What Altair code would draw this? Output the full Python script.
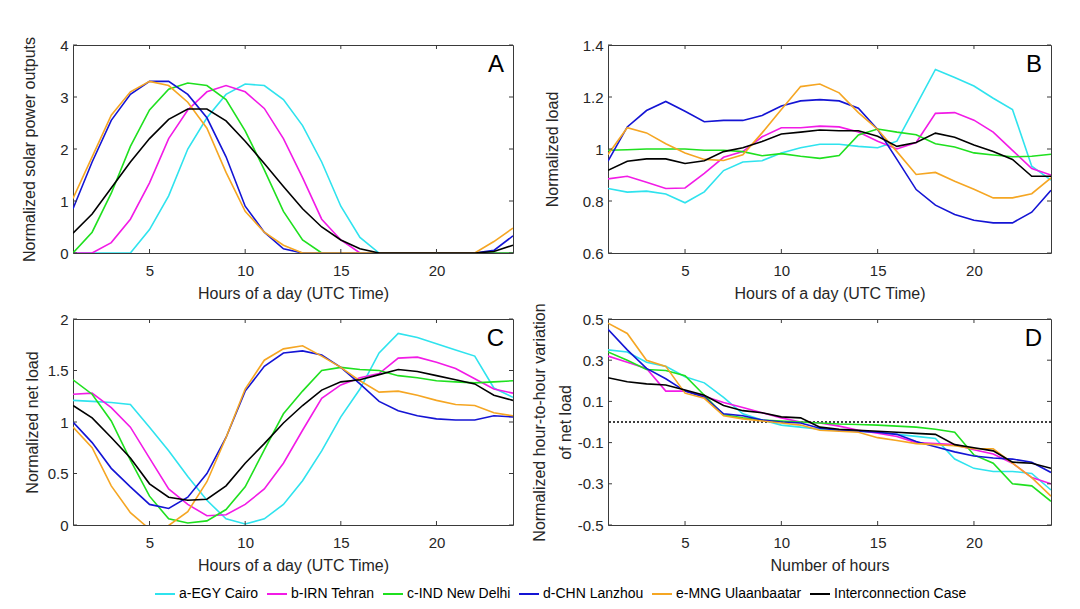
import altair as alt
import pandas as pd

hours = list(range(1, 25))
series_names = ["a-EGY Cairo", "b-IRN Tehran", "c-IND New Delhi", "d-CHN Lanzhou",
                "e-MNG Ulaanbaatar", "Interconnection Case"]
series_colors = ["#2FE3EE", "#F21BE6", "#1FE01F", "#1414D4", "#F5A623", "#000000"]
x_ticks = [5, 10, 15, 20]

# Panel A: normalized solar power outputs
solar_cairo = [0, 0, 0, 0, 0.45, 1.1, 2.0, 2.6, 3.05, 3.25, 3.22, 2.95, 2.45, 1.75, 0.9, 0.3, 0, 0, 0, 0, 0, 0, 0, 0]
solar_tehran = [0, 0, 0.2, 0.65, 1.35, 2.2, 2.75, 3.1, 3.22, 3.1, 2.78, 2.2, 1.45, 0.65, 0.25, 0, 0, 0, 0, 0, 0, 0, 0, 0]
solar_delhi = [0, 0.4, 1.15, 2.05, 2.75, 3.15, 3.27, 3.22, 2.95, 2.35, 1.6, 0.8, 0.25, 0, 0, 0, 0, 0, 0, 0, 0, 0, 0, 0]
solar_lanzhou = [0.85, 1.75, 2.55, 3.05, 3.3, 3.3, 3.05, 2.6, 1.85, 0.9, 0.4, 0.08, 0, 0, 0, 0, 0, 0, 0, 0, 0, 0, 0.05, 0.33]
solar_ulaan = [1.05, 1.85, 2.65, 3.1, 3.3, 3.22, 2.9, 2.4, 1.55, 0.8, 0.4, 0.15, 0, 0, 0, 0, 0, 0, 0, 0, 0, 0, 0.22, 0.48]
solar_inter = [0.38, 0.75, 1.25, 1.75, 2.2, 2.57, 2.77, 2.77, 2.54, 2.15, 1.72, 1.28, 0.85, 0.5, 0.25, 0.08, 0, 0, 0, 0, 0, 0, 0.03, 0.15]

# Panel B: normalized load
load_cairo = [0.848, 0.834, 0.838, 0.827, 0.793, 0.835, 0.917, 0.95, 0.955, 0.985, 1.005, 1.018, 1.018, 1.01, 1.005, 1.03, 1.168, 1.306, 1.275, 1.242, 1.195, 1.152, 0.934, 0.88]
load_tehran = [0.885, 0.895, 0.872, 0.848, 0.85, 0.906, 0.968, 0.99, 1.047, 1.082, 1.082, 1.088, 1.085, 1.065, 1.03, 1.0, 1.025, 1.137, 1.14, 1.111, 1.065, 0.995, 0.925, 0.9]
load_delhi = [0.995, 0.997, 1.0, 1.0, 1.0, 0.995, 0.995, 0.99, 0.974, 0.982, 0.972, 0.964, 0.975, 1.054, 1.077, 1.065, 1.055, 1.02, 1.008, 0.985, 0.977, 0.97, 0.972, 0.98]
load_lanzhou = [0.953, 1.085, 1.148, 1.183, 1.145, 1.105, 1.11, 1.11, 1.129, 1.165, 1.185, 1.19, 1.185, 1.157, 1.075, 0.96, 0.844, 0.784, 0.748, 0.726, 0.716, 0.716, 0.757, 0.841]
load_ulaan = [0.979, 1.082, 1.062, 1.02, 0.985, 0.96, 0.956, 0.978, 1.062, 1.152, 1.24, 1.25, 1.216, 1.14, 1.075, 0.99, 0.902, 0.91, 0.876, 0.845, 0.812, 0.812, 0.828, 0.889]
load_inter = [0.918, 0.953, 0.962, 0.962, 0.944, 0.955, 0.99, 1.005, 1.029, 1.058, 1.065, 1.073, 1.07, 1.07, 1.049, 1.01, 1.025, 1.061, 1.045, 1.015, 0.99, 0.96, 0.895, 0.895]

# Panel C: normalized net load
net_cairo = [1.21, 1.2, 1.19, 1.17, 0.95, 0.72, 0.47, 0.24, 0.06, 0.01, 0.06, 0.2, 0.43, 0.72, 1.05, 1.32, 1.67, 1.86, 1.82, 1.76, 1.7, 1.64, 1.33, 1.24]
net_tehran = [1.27, 1.28, 1.14, 0.95, 0.65, 0.35, 0.2, 0.09, 0.1, 0.2, 0.35, 0.6, 0.92, 1.23, 1.36, 1.43, 1.47, 1.62, 1.63, 1.58, 1.52, 1.42, 1.32, 1.28]
net_delhi = [1.41, 1.27, 1.01, 0.63, 0.28, 0.06, 0.02, 0.04, 0.15, 0.37, 0.73, 1.08, 1.3, 1.5, 1.53, 1.51, 1.5, 1.45, 1.43, 1.4, 1.39, 1.38, 1.39, 1.4]
net_lanzhou = [1.0, 0.8, 0.55, 0.37, 0.2, 0.16, 0.27, 0.5, 0.85, 1.3, 1.54, 1.67, 1.69, 1.65, 1.53, 1.37, 1.2, 1.11, 1.06, 1.03, 1.02, 1.02, 1.06, 1.05]
net_ulaan = [0.95, 0.75, 0.38, 0.12, -0.04, -0.005, 0.13, 0.42, 0.85, 1.32, 1.6, 1.71, 1.74, 1.64, 1.53, 1.4, 1.29, 1.3, 1.26, 1.21, 1.17, 1.16, 1.09, 1.06]
net_inter = [1.16, 1.04, 0.85, 0.65, 0.4, 0.27, 0.24, 0.25, 0.38, 0.6, 0.79, 0.99, 1.16, 1.31, 1.39, 1.41, 1.46, 1.51, 1.49, 1.45, 1.41, 1.37, 1.26, 1.21]

# Panel D: normalized hour-to-hour variation of net load (sorted)
var_cairo = [0.35, 0.34, 0.29, 0.27, 0.22, 0.19, 0.12, 0.04, 0.01, -0.015, -0.025, -0.035, -0.04, -0.045, -0.05, -0.06, -0.07, -0.08, -0.18, -0.225, -0.24, -0.24, -0.25, -0.33]
var_tehran = [0.32, 0.29, 0.26, 0.15, 0.15, 0.125, 0.095, 0.07, 0.045, 0.02, 0.0, -0.005, -0.02, -0.04, -0.055, -0.07, -0.1, -0.105, -0.11, -0.135, -0.155, -0.2, -0.27, -0.3]
var_delhi = [0.34, 0.3, 0.255, 0.25, 0.225, 0.13, 0.035, 0.02, 0.01, 0.005, 0.0, -0.005, -0.01, -0.012, -0.015, -0.02, -0.025, -0.035, -0.05, -0.16, -0.2, -0.3, -0.31, -0.385]
var_lanzhou = [0.45, 0.35, 0.26, 0.21, 0.15, 0.12, 0.04, 0.03, 0.01, 0.0, -0.005, -0.03, -0.04, -0.045, -0.05, -0.06, -0.095, -0.12, -0.145, -0.165, -0.175, -0.18, -0.195, -0.245]
var_ulaan = [0.48, 0.43, 0.3, 0.27, 0.14, 0.115, 0.03, 0.015, 0.005, -0.005, -0.015, -0.04, -0.045, -0.05, -0.076, -0.09, -0.105, -0.11, -0.115, -0.13, -0.13, -0.2, -0.27, -0.36]
var_inter = [0.215, 0.195, 0.185, 0.18, 0.155, 0.13, 0.08, 0.055, 0.045, 0.025, 0.02, -0.025, -0.035, -0.04, -0.045, -0.05, -0.055, -0.06, -0.11, -0.125, -0.14, -0.195, -0.2, -0.225]

FONT = "Liberation Sans"
TXT = "#262626"
BOX = "#3a3a3a"


def long_df(series_lists):
    rows = []
    for name, vals in zip(series_names, series_lists):
        for h, v in zip(hours, vals):
            rows.append({"hour": h, "value": v, "series": name})
    return pd.DataFrame(rows)


def panel(series_lists, ydomain, yticks, ytitle, xtitle, letter, width, height,
          title_pad, zero_line=False):
    df = long_df(series_lists)
    x = alt.X("hour:Q", scale=alt.Scale(domain=[1, 24], nice=False, zero=False),
              axis=alt.Axis(values=x_ticks, title=xtitle, labelPadding=10, titlePadding=7,
                            labelAngle=0))
    y = alt.Y("value:Q", scale=alt.Scale(domain=ydomain, nice=False, zero=False),
              axis=alt.Axis(values=yticks, title=ytitle, labelPadding=5,
                            titlePadding=title_pad, labelExpr="'' + datum.value",
                            titleLineHeight=26))
    color = alt.Color("series:N",
                      scale=alt.Scale(domain=series_names, range=series_colors),
                      legend=alt.Legend(orient="none", legendX=81, legendY=538,
                                        direction="horizontal", columns=6, title=None,
                                        symbolType="stroke", symbolSize=400,
                                        symbolStrokeWidth=2, labelFontSize=14,
                                        labelFont=FONT, labelColor="#000000",
                                        labelOffset=3, columnPadding=4,
                                        labelLimit=300, padding=0))
    lines = alt.Chart(df).mark_line(strokeWidth=1.6, clip=True).encode(x=x, y=y, color=color)

    xt = pd.DataFrame({"hour": x_ticks})
    yt = pd.DataFrame({"value": yticks})
    tick_style = dict(color=BOX, strokeWidth=1)
    t_bottom = alt.Chart(xt).mark_rule(**tick_style).encode(
        x=x, y=alt.value(height), y2=alt.value(height - 4))
    t_top = alt.Chart(xt).mark_rule(**tick_style).encode(
        x=x, y=alt.value(0), y2=alt.value(4))
    t_left = alt.Chart(yt).mark_rule(**tick_style).encode(
        y=y, x=alt.value(0), x2=alt.value(4))
    t_right = alt.Chart(yt).mark_rule(**tick_style).encode(
        y=y, x=alt.value(width), x2=alt.value(width - 4))

    lab = alt.Chart(pd.DataFrame({"t": [letter]})).mark_text(
        fontSize=24, font=FONT, align="right", baseline="alphabetic", color="#000000"
    ).encode(text="t:N", x=alt.value(width - 9), y=alt.value(27))

    layers = [lines, t_bottom, t_top, t_left, t_right]
    if zero_line:
        zl = alt.Chart(pd.DataFrame({"value": [0]})).mark_rule(
            strokeDash=[2, 2], color="#000000", strokeWidth=1.3).encode(y=y)
        layers.insert(0, zl)
    layers.append(lab)
    return alt.layer(*layers).properties(width=width, height=height)


pA = panel([solar_cairo, solar_tehran, solar_delhi, solar_lanzhou, solar_ulaan, solar_inter],
           [0, 4], [0, 1, 2, 3, 4], "Normalized solar power outputs",
           "Hours of a day (UTC Time)", "A", 440, 208, 22)
pB = panel([load_cairo, load_tehran, load_delhi, load_lanzhou, load_ulaan, load_inter],
           [0.6, 1.4], [0.6, 0.8, 1, 1.2, 1.4], "Normalized load",
           "Hours of a day (UTC Time)", "B", 443, 208, 22)
pC = panel([net_cairo, net_tehran, net_delhi, net_lanzhou, net_ulaan, net_inter],
           [0, 2], [0, 0.5, 1, 1.5, 2], "Normalized net load",
           "Hours of a day (UTC Time)", "C", 440, 206, 7)
pD = panel([var_cairo, var_tehran, var_delhi, var_lanzhou, var_ulaan, var_inter],
           [-0.5, 0.5], [-0.5, -0.3, -0.1, 0.1, 0.3, 0.5],
           ["Normalized hour-to-hour variation", "of net load"],
           "Number of hours", "D", 443, 206, 4, zero_line=True)

chart = alt.concat(pA, pB, pC, pD, columns=2,
                   spacing={"row": 0, "column": 16}).properties(
    padding={"left": 21, "top": 36, "right": 5, "bottom": 5},
    background="white",
).configure_view(stroke=BOX, strokeWidth=1).configure_axis(
    domain=False, grid=False, ticks=False, tickSize=0,
    labelFont=FONT, labelFontSize=15, labelColor=TXT,
    titleFont=FONT, titleFontSize=16, titleFontWeight="normal", titleColor=TXT,
)

chart.save("out.html", embed_options={"renderer": "svg", "actions": False})
